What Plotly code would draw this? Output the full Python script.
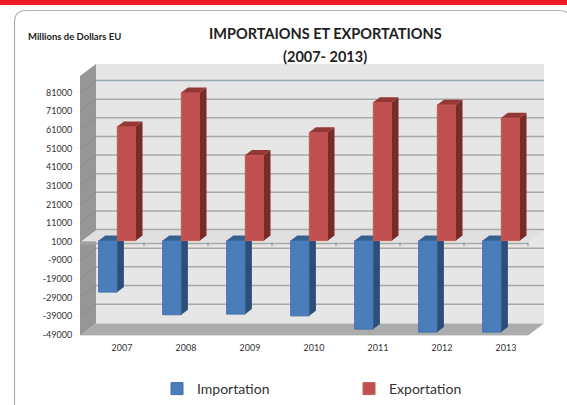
import plotly.graph_objects as go

years = [2007, 2008, 2009, 2010, 2011, 2012, 2013]
importation = [-26650, -38800, -38450, -39400, -46500, -48100, -48100]
exportation = [62300, 80550, 46900, 59100, 75200, 73900, 66900]
y_ticks = [81000, 71000, 61000, 51000, 41000, 31000, 21000, 11000, 1000,
           -9000, -19000, -29000, -39000, -49000]

W, H = 567, 405
PX_L, PX_R, PX_T, PX_B = 80, 544, 64, 335.5
X0, X1 = 2006.5, 2013.75
Y0, Y1 = -49400, 96335
sx = (PX_R - PX_L) / (X1 - X0)          # px per category
sy = (PX_B - PX_T) / (Y1 - Y0)          # px per unit
BASE = 1000
LIFT = 1 / sy                           # bars stand 1 px above the axis plane
WALL_DX, WALL_DY = 16 / sx, 12 / sy     # depth of the box
BAR_W = 18.6 / sx
BAR_DX, BAR_DY = 6.6 / sx, 5 / sy       # depth of a bar
IMP_OFF = (98.7 - 112) / sx             # left of import bar from category centre
EXP_OFF = (117.3 - 112) / sx

fig = go.Figure()


def polygon(xs, ys, color, axes=("x", "y")):
    return go.Scatter(x=xs, y=ys, mode="lines", fill="toself", fillcolor=color,
                      line=dict(width=0, color=color), hoverinfo="skip",
                      showlegend=False, xaxis=axes[0], yaxis=axes[1])


def bar_series(values, offset, name, front, edge, side, top, axes):
    for yr, v in zip(years, values):
        lo, hi = sorted((BASE, v))
        x0, x1 = yr + offset, yr + offset + BAR_W
        fig.add_trace(polygon(
            [x1, x1 + BAR_DX, x1 + BAR_DX, x1, x1],
            [lo + LIFT, lo + LIFT + BAR_DY, hi + LIFT + BAR_DY, hi + LIFT, lo + LIFT],
            side, axes))
        fig.add_trace(polygon(
            [x0, x0 + BAR_DX, x1 + BAR_DX, x1, x0],
            [hi + LIFT, hi + LIFT + BAR_DY, hi + LIFT + BAR_DY, hi + LIFT, hi + LIFT],
            top, axes))
    fig.add_trace(go.Bar(
        x=years, y=[v - BASE for v in values], base=[BASE + LIFT] * len(values),
        width=BAR_W, offset=offset, name=name,
        marker=dict(color=front, line=dict(color=edge, width=1)),
        xaxis=axes[0], yaxis=axes[1]))


bar_series(importation, IMP_OFF, "Importation", "#4a7ebb", "#3f6fa8", "#2c4f78", "#376092", ("x", "y"))
bar_series(exportation, EXP_OFF, "Exportation", "#c0504d", "#c65b58", "#772c2a", "#953735", ("x2", "y2"))

shapes = []


def quad(xs, ys, color):
    path = "M " + " L ".join(f"{a},{b}" for a, b in zip(xs, ys)) + " Z"
    shapes.append(dict(type="path", path=path, xref="x", yref="y", layer="below",
                       fillcolor=color, line=dict(width=0)))


xl, xr = X0, X0 + 7
quad([xl + WALL_DX, X1, X1, xl + WALL_DX],
     [Y0 + WALL_DY, Y0 + WALL_DY, Y1, Y1], "#e6e6e6")
quad([xl, xl + WALL_DX, xl + WALL_DX, xl],
     [Y0, Y0 + WALL_DY, Y1, Y1 - WALL_DY], "#969696")
quad([xl, xr, X1, xl + WALL_DX],
     [Y0, Y0, Y0 + WALL_DY, Y0 + WALL_DY], "#acacac")
# plane of the crossing axis
quad([xl, xr, X1, xl + WALL_DX],
     [BASE, BASE, BASE + WALL_DY, BASE + WALL_DY], "#e0e0e0")

for v in y_ticks:
    if v == -49000:
        continue
    shapes.append(dict(type="line", xref="x", yref="y", layer="below",
                       x0=xl + WALL_DX, x1=X1, y0=v + WALL_DY, y1=v + WALL_DY,
                       line=dict(color="#9aa8b0" if v == 81000 else "#a9a9a9",
                                 width=1.5)))
    shapes.append(dict(type="line", xref="x", yref="y", layer="below",
                       x0=xl, x1=xl + WALL_DX, y0=v, y1=v + WALL_DY,
                       line=dict(color="#8b8b8b", width=1)))
shapes.append(dict(type="line", xref="x", yref="y", layer="below",
                   x0=xl, x1=xr, y0=BASE - 2 / sy, y1=BASE - 2 / sy,
                   line=dict(color="#a8a8a8", width=1.5)))
shapes.append(dict(type="line", xref="x", yref="y", layer="below",
                   x0=xl, x1=xr, y0=Y0 - 0.3 / sy, y1=Y0 - 0.3 / sy,
                   line=dict(color="#d0d0d0", width=1.5)))
for k in range(1, 8):
    shapes.append(dict(type="line", xref="x", yref="y", layer="below",
                       x0=xl + k, x1=xl + k, y0=BASE - 1 / sy, y1=BASE - 4.5 / sy,
                       line=dict(color="#8a8a8a", width=1)))

# red band and rounded frame
shapes.append(dict(type="rect", xref="paper", yref="paper", x0=0, x1=1,
                   y0=1 - 5 / H, y1=1, fillcolor="#ed1c24", line=dict(width=0),
                   layer="below"))
px = lambda a: a / W
py = lambda b: 1 - b / H
shapes.append(dict(
    type="path", xref="paper", yref="paper", layer="below",
    path=f"M {px(14.5)},{py(405)} L {px(14.5)},{py(22)} "
         f"Q {px(14.5)},{py(10.5)} {px(26)},{py(10.5)} "
         f"L {px(560)},{py(10.5)} Q {px(564)},{py(10.5)} {px(567)},{py(12.5)}",
    line=dict(color="#b0b0b0", width=1.2)))

dom_x = [PX_L / W, PX_R / W]
dom_y = [1 - PX_B / H, 1 - PX_T / H]
TXT = "#222222"

fig.update_layout(
    width=W, height=H, margin=dict(l=0, r=0, t=0, b=0, autoexpand=False),
    paper_bgcolor="white", plot_bgcolor="rgba(0,0,0,0)",
    barmode="overlay", shapes=shapes,
    font=dict(family="Lato", color="#333333"),
    showlegend=True,
    legend=dict(orientation="h", x=157 / W, y=1 - 373 / H, xanchor="left", yanchor="top",
                entrywidth=147, entrywidthmode="pixels", itemclick=False,
                font=dict(size=14, color="#333333", family="Lato"),
                bgcolor="rgba(0,0,0,0)"),
    xaxis=dict(domain=dom_x, range=[X0, X1], tickmode="array",
               tickvals=[y + 10 / sx for y in years], ticktext=[str(y) for y in years],
               tickfont=dict(size=9, color="#333333"), showgrid=False, zeroline=False,
               showline=False, ticks="outside", ticklen=4, tickcolor="rgba(0,0,0,0)"),
    yaxis=dict(domain=dom_y, range=[Y0, Y1], tickmode="array", tickvals=y_ticks,
               ticktext=[str(v) for v in y_ticks],
               tickfont=dict(size=9, color="#333333"), showgrid=False, zeroline=False,
               showline=False, ticks="outside", ticklen=5, tickcolor="rgba(0,0,0,0)"),
    xaxis2=dict(domain=dom_x, range=[X0, X1], overlaying="x", visible=False, anchor="y2"),
    yaxis2=dict(domain=dom_y, range=[Y0, Y1], overlaying="y", visible=False, anchor="x2"),
    annotations=[
        dict(text="<b>IMPORTAIONS ET EXPORTATIONS</b>", xref="paper", yref="paper",
             x=325 / W, y=1 - 34 / H, xanchor="center", yanchor="middle", showarrow=False,
             font=dict(size=14.5, color=TXT, family="Lato")),
        dict(text="<b>(2007- 2013)</b>", xref="paper", yref="paper",
             x=325 / W, y=1 - 56 / H, xanchor="center", yanchor="middle", showarrow=False,
             font=dict(size=14.5, color=TXT, family="Lato")),
        dict(text="<b>Millions de Dollars EU</b>", xref="paper", yref="paper",
             x=26 / W, y=1 - 36 / H, xanchor="left", yanchor="middle", showarrow=False,
             font=dict(size=9.5, color=TXT, family="Lato")),
    ],
)

fig.write_html("out.html", config=dict(displayModeBar=False),
               post_script="document.body.style.margin='0';document.documentElement.style.overflow='hidden';")
